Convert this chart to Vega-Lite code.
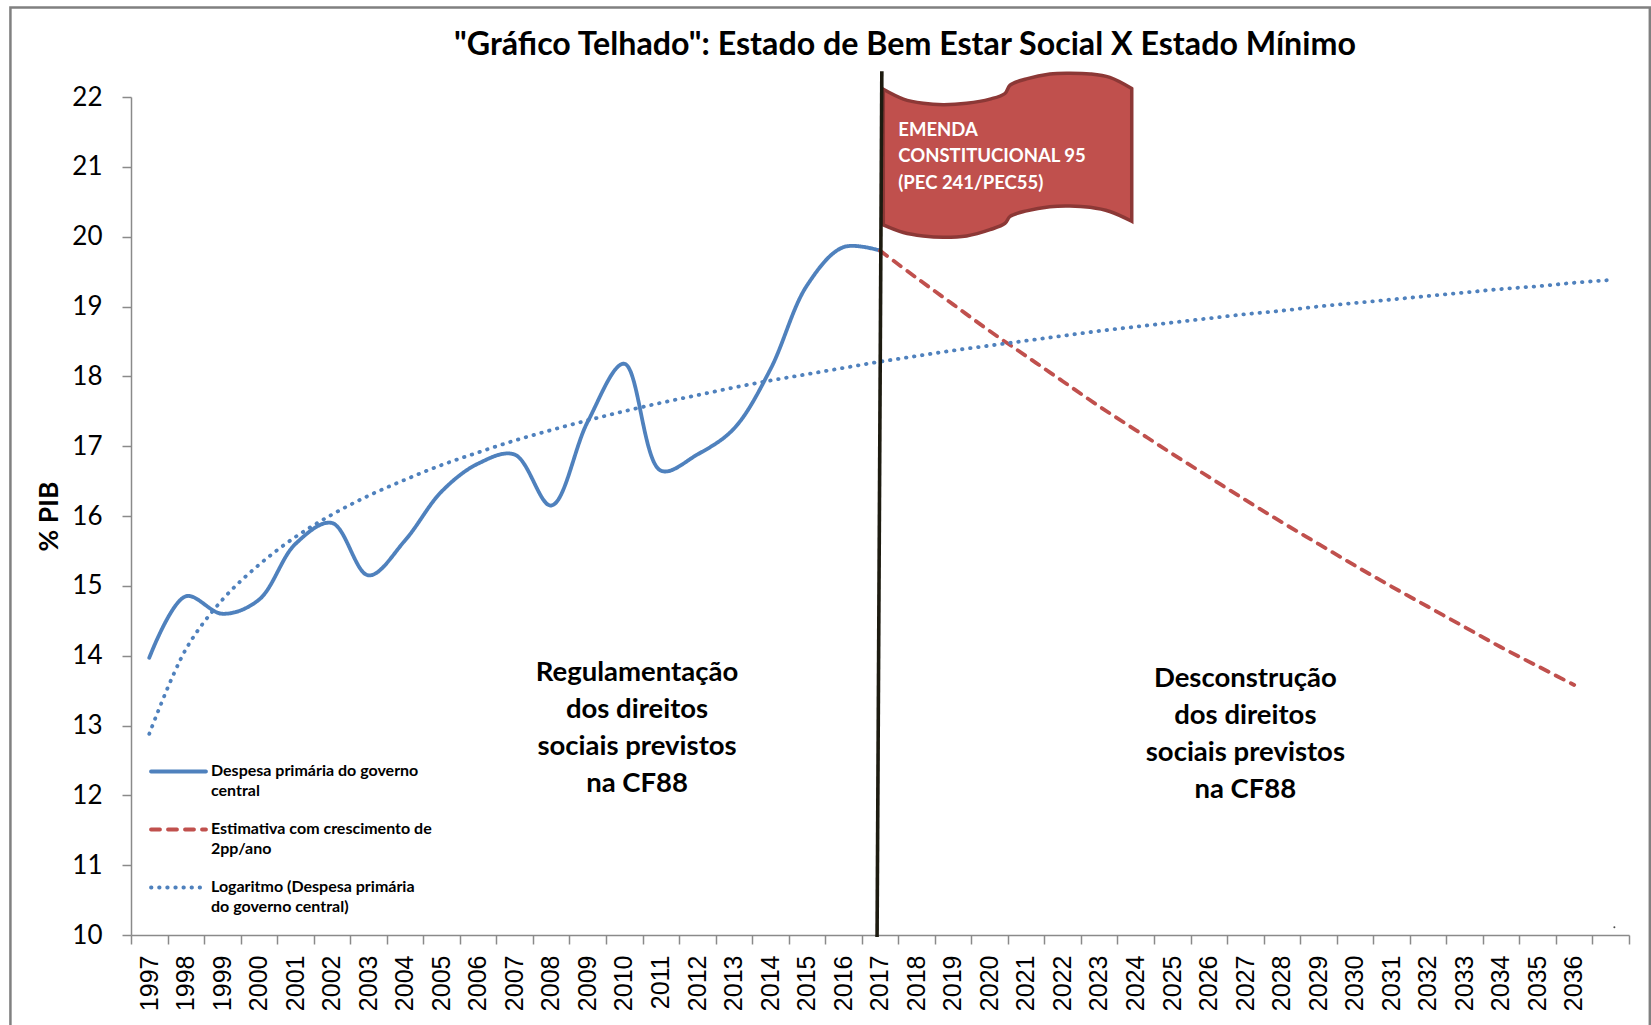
{
"$schema":"https://vega.github.io/schema/vega-lite/v6.json",
"autosize":{"type":"none"},
"padding":{"left":131,"top":97,"right":22,"bottom":90},
"width":1498,"height":838,
"background":"white",
"config":{"view":{"stroke":null}},
"title":{"text":"\"Gráfico Telhado\": Estado de Bem Estar Social X Estado Mínimo","font":"Lato","fontSize":32.2,"fontWeight":"bold","color":"#000000","anchor":"middle","dx":25,"offset":-56},
"datasets":{
"series":[
{"series":"Despesa primária do governo central","year":1997,"value":13.97},{"series":"Despesa primária do governo central","year":1998,"value":14.85},{"series":"Despesa primária do governo central","year":1999,"value":14.6},{"series":"Despesa primária do governo central","year":2000,"value":14.8},{"series":"Despesa primária do governo central","year":2001,"value":15.6},{"series":"Despesa primária do governo central","year":2002,"value":15.9},{"series":"Despesa primária do governo central","year":2003,"value":15.15},{"series":"Despesa primária do governo central","year":2004,"value":15.65},{"series":"Despesa primária do governo central","year":2005,"value":16.35},{"series":"Despesa primária do governo central","year":2006,"value":16.75},{"series":"Despesa primária do governo central","year":2007,"value":16.88},{"series":"Despesa primária do governo central","year":2008,"value":16.15},{"series":"Despesa primária do governo central","year":2009,"value":17.35},{"series":"Despesa primária do governo central","year":2010,"value":18.18},{"series":"Despesa primária do governo central","year":2011,"value":16.65},{"series":"Despesa primária do governo central","year":2012,"value":16.88},{"series":"Despesa primária do governo central","year":2013,"value":17.25},{"series":"Despesa primária do governo central","year":2014,"value":18.1},{"series":"Despesa primária do governo central","year":2015,"value":19.3},{"series":"Despesa primária do governo central","year":2016,"value":19.85},{"series":"Despesa primária do governo central","year":2017,"value":19.8},
{"series":"Estimativa com crescimento de 2pp/ano","year":2017,"value":19.8},{"series":"Estimativa com crescimento de 2pp/ano","year":2018,"value":19.41},{"series":"Estimativa com crescimento de 2pp/ano","year":2019,"value":19.03},{"series":"Estimativa com crescimento de 2pp/ano","year":2020,"value":18.65},{"series":"Estimativa com crescimento de 2pp/ano","year":2021,"value":18.29},{"series":"Estimativa com crescimento de 2pp/ano","year":2022,"value":17.93},{"series":"Estimativa com crescimento de 2pp/ano","year":2023,"value":17.57},{"series":"Estimativa com crescimento de 2pp/ano","year":2024,"value":17.23},{"series":"Estimativa com crescimento de 2pp/ano","year":2025,"value":16.89},{"series":"Estimativa com crescimento de 2pp/ano","year":2026,"value":16.56},{"series":"Estimativa com crescimento de 2pp/ano","year":2027,"value":16.23},{"series":"Estimativa com crescimento de 2pp/ano","year":2028,"value":15.91},{"series":"Estimativa com crescimento de 2pp/ano","year":2029,"value":15.6},{"series":"Estimativa com crescimento de 2pp/ano","year":2030,"value":15.29},{"series":"Estimativa com crescimento de 2pp/ano","year":2031,"value":14.99},{"series":"Estimativa com crescimento de 2pp/ano","year":2032,"value":14.7},{"series":"Estimativa com crescimento de 2pp/ano","year":2033,"value":14.41},{"series":"Estimativa com crescimento de 2pp/ano","year":2034,"value":14.12},{"series":"Estimativa com crescimento de 2pp/ano","year":2035,"value":13.85},{"series":"Estimativa com crescimento de 2pp/ano","year":2036,"value":13.58},
{"series":"Logaritmo (Despesa primária do governo central)","year":1997,"value":12.88},{"series":"Logaritmo (Despesa primária do governo central)","year":1998,"value":14.09},{"series":"Logaritmo (Despesa primária do governo central)","year":1999,"value":14.8},{"series":"Logaritmo (Despesa primária do governo central)","year":2000,"value":15.3},{"series":"Logaritmo (Despesa primária do governo central)","year":2001,"value":15.7},{"series":"Logaritmo (Despesa primária do governo central)","year":2002,"value":16.02},{"series":"Logaritmo (Despesa primária do governo central)","year":2003,"value":16.29},{"series":"Logaritmo (Despesa primária do governo central)","year":2004,"value":16.52},{"series":"Logaritmo (Despesa primária do governo central)","year":2005,"value":16.73},{"series":"Logaritmo (Despesa primária do governo central)","year":2006,"value":16.91},{"series":"Logaritmo (Despesa primária do governo central)","year":2007,"value":17.08},{"series":"Logaritmo (Despesa primária do governo central)","year":2008,"value":17.23},{"series":"Logaritmo (Despesa primária do governo central)","year":2009,"value":17.37},{"series":"Logaritmo (Despesa primária do governo central)","year":2010,"value":17.5},{"series":"Logaritmo (Despesa primária do governo central)","year":2011,"value":17.62},{"series":"Logaritmo (Despesa primária do governo central)","year":2012,"value":17.73},{"series":"Logaritmo (Despesa primária do governo central)","year":2013,"value":17.84},{"series":"Logaritmo (Despesa primária do governo central)","year":2014,"value":17.94},{"series":"Logaritmo (Despesa primária do governo central)","year":2015,"value":18.03},{"series":"Logaritmo (Despesa primária do governo central)","year":2016,"value":18.12},{"series":"Logaritmo (Despesa primária do governo central)","year":2017,"value":18.21},{"series":"Logaritmo (Despesa primária do governo central)","year":2018,"value":18.29},{"series":"Logaritmo (Despesa primária do governo central)","year":2019,"value":18.37},{"series":"Logaritmo (Despesa primária do governo central)","year":2020,"value":18.44},{"series":"Logaritmo (Despesa primária do governo central)","year":2021,"value":18.51},{"series":"Logaritmo (Despesa primária do governo central)","year":2022,"value":18.58},{"series":"Logaritmo (Despesa primária do governo central)","year":2023,"value":18.65},{"series":"Logaritmo (Despesa primária do governo central)","year":2024,"value":18.71},{"series":"Logaritmo (Despesa primária do governo central)","year":2025,"value":18.77},{"series":"Logaritmo (Despesa primária do governo central)","year":2026,"value":18.83},{"series":"Logaritmo (Despesa primária do governo central)","year":2027,"value":18.89},{"series":"Logaritmo (Despesa primária do governo central)","year":2028,"value":18.94},{"series":"Logaritmo (Despesa primária do governo central)","year":2029,"value":19.0},{"series":"Logaritmo (Despesa primária do governo central)","year":2030,"value":19.05},{"series":"Logaritmo (Despesa primária do governo central)","year":2031,"value":19.1},{"series":"Logaritmo (Despesa primária do governo central)","year":2032,"value":19.15},{"series":"Logaritmo (Despesa primária do governo central)","year":2033,"value":19.2},{"series":"Logaritmo (Despesa primária do governo central)","year":2034,"value":19.25},{"series":"Logaritmo (Despesa primária do governo central)","year":2035,"value":19.29},{"series":"Logaritmo (Despesa primária do governo central)","year":2036,"value":19.34},{"series":"Logaritmo (Despesa primária do governo central)","year":2037,"value":19.38}
],
"frame":[{"x1":1993.2,"x2":2038.07,"y1":23.28,"y2":8.6}],
"flag":[
{"year":2017.09,"top":22.11,"bottom":20.17},{"year":2017.64,"top":21.97,"bottom":20.06},{"year":2018.18,"top":21.91,"bottom":20.01},{"year":2018.73,"top":21.89,"bottom":19.99},{"year":2019.37,"top":21.91,"bottom":20.01},{"year":2020.01,"top":21.97,"bottom":20.1},{"year":2020.42,"top":22.05,"bottom":20.19},{"year":2020.56,"top":22.17,"bottom":20.29},{"year":2021.01,"top":22.26,"bottom":20.37},{"year":2021.65,"top":22.33,"bottom":20.43},{"year":2022.2,"top":22.34,"bottom":20.44},{"year":2022.75,"top":22.33,"bottom":20.42},{"year":2023.29,"top":22.28,"bottom":20.36},{"year":2023.89,"top":22.12,"bottom":20.22}
],
"pole":[{"year":2017.05,"value":22.37},{"year":2016.92,"value":9.97}],
"flagText":[
{"year":2017.5,"value":21.53,"label":"EMENDA"},{"year":2017.5,"value":21.16,"label":"CONSTITUCIONAL 95"},{"year":2017.5,"value":20.77,"label":"(PEC 241/PEC55)"}
],
"notes":[
{"year":2010.35,"value":13.75,"label":"Regulamentação"},{"year":2010.35,"value":13.22,"label":"dos direitos"},{"year":2010.35,"value":12.69,"label":"sociais previstos"},{"year":2010.35,"value":12.16,"label":"na CF88"},
{"year":2027.0,"value":13.66,"label":"Desconstrução"},{"year":2027.0,"value":13.14,"label":"dos direitos"},{"year":2027.0,"value":12.6,"label":"sociais previstos"},{"year":2027.0,"value":12.07,"label":"na CF88"}
],
"speck":[{"year":2037.1,"value":10.11}]
},
"encoding":{
"x":{"field":"year","type":"quantitative","title":null,"scale":{"domain":[1996.5,2037.5],"nice":false,"zero":false},
"axis":{"values":[1996.5,1997.5,1998.5,1999.5,2000.5,2001.5,2002.5,2003.5,2004.5,2005.5,2006.5,2007.5,2008.5,2009.5,2010.5,2011.5,2012.5,2013.5,2014.5,2015.5,2016.5,2017.5,2018.5,2019.5,2020.5,2021.5,2022.5,2023.5,2024.5,2025.5,2026.5,2027.5,2028.5,2029.5,2030.5,2031.5,2032.5,2033.5,2034.5,2035.5,2036.5,2037.5],
"labelExpr":"datum.value > 2036 ? '' : '' + (datum.value + 0.5)","labelOffset":18,"labelAngle":270,"labelAlign":"right","labelBaseline":"middle","labelFont":"Liberation Sans","labelFontSize":25,"labelColor":"#000000","labelPadding":11,"labelOverlap":false,"labelFlush":false,"labelBound":false,"tickSize":9,"tickColor":"#8a8a8a","tickWidth":1.5,"domainColor":"#8a8a8a","domainWidth":1.5,"grid":false}},
"y":{"field":"value","type":"quantitative","scale":{"domain":[10,22],"nice":false,"zero":false},
"axis":{"values":[10,11,12,13,14,15,16,17,18,19,20,21,22],"title":"% PIB","titleFont":"Lato","titleFontSize":26.5,"titleFontWeight":"bold","titleColor":"#000000","titlePadding":8,"labelFont":"Lato","labelFontSize":26,"labelColor":"#000000","labelPadding":20,"tickSize":9,"tickColor":"#8a8a8a","tickWidth":1.5,"domainColor":"#8a8a8a","domainWidth":1.5,"grid":false}}
},
"layer":[
{"data":{"name":"frame"},"mark":{"type":"rect","fill":null,"stroke":"#808080","strokeWidth":2.5,"clip":false},
"encoding":{"x":{"field":"x1","type":"quantitative","scale":{"domain":[1996.5,2037.5],"nice":false,"zero":false}},"x2":{"field":"x2"},"y":{"field":"y1","type":"quantitative","scale":{"domain":[10,22],"nice":false,"zero":false}},"y2":{"field":"y2"}}},
{"data":{"name":"flag"},"mark":{"type":"area","interpolate":"catmull-rom","fill":"#c0504d","stroke":"#8c3836","strokeWidth":3.5,"clip":false},
"encoding":{"y":{"field":"top","type":"quantitative","scale":{"domain":[10,22],"nice":false,"zero":false}},"y2":{"field":"bottom"}}},
{"data":{"name":"series"},"mark":{"type":"line","interpolate":"catmull-rom","strokeWidth":3.8,"strokeCap":"round","clip":false},
"encoding":{
"color":{"field":"series","type":"nominal","scale":{"domain":["Despesa primária do governo central","Estimativa com crescimento de 2pp/ano","Logaritmo (Despesa primária do governo central)"],"range":["#4f81bd","#c0504d","#4f81bd"]},
"legend":{"title":null,"orient":"none","legendX":18,"legendY":645,"symbolType":"stroke","symbolSize":3025,"symbolStrokeWidth":3.8,"labelFont":"Lato","labelFontSize":16,"labelFontWeight":"bold","labelColor":"#000000","labelOffset":3,"labelBaseline":"top","labelLimit":400,"rowPadding":-15.4,
"encoding":{"labels":{"dy":{"value":-9},"lineHeight":{"value":20.7}},"symbols":{"strokeCap":{"value":"round"}}},
"labelExpr":"datum.label == 'Despesa primária do governo central' ? ['Despesa primária do governo','central'] : datum.label == 'Estimativa com crescimento de 2pp/ano' ? ['Estimativa com crescimento de','2pp/ano'] : ['Logaritmo (Despesa primária','do governo central)']"}},
"strokeDash":{"field":"series","type":"nominal","scale":{"domain":["Despesa primária do governo central","Estimativa com crescimento de 2pp/ano","Logaritmo (Despesa primária do governo central)"],"range":[[1,0],[9,8],[0.5,7.6]]}}
}},
{"data":{"name":"pole"},"mark":{"type":"line","color":"#1d1b10","strokeWidth":3.6,"clip":false}},
{"data":{"name":"flagText"},"mark":{"type":"text","align":"left","baseline":"middle","font":"Lato","fontSize":18.5,"fontWeight":"bold","color":"#ffffff"},"encoding":{"text":{"field":"label"}}},
{"data":{"name":"notes"},"mark":{"type":"text","align":"center","baseline":"middle","font":"Lato","fontSize":27.5,"fontWeight":"bold","color":"#000000"},"encoding":{"text":{"field":"label"}}},
{"data":{"name":"speck"},"mark":{"type":"point","filled":true,"size":4,"color":"#000000"}}
]
}
